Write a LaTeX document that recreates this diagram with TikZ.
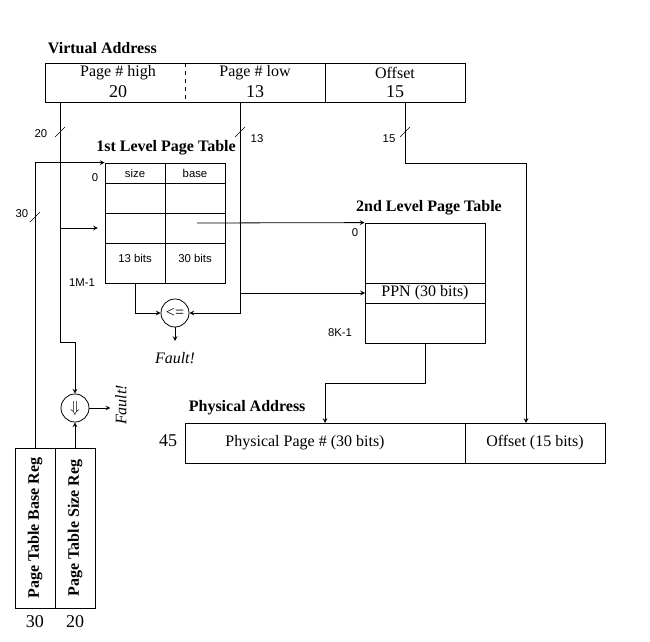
\documentclass[tikz,border=0pt]{standalone}
\usepackage{fontspec}
\setmainfont{Liberation Serif}
\newfontfamily\lblfont{Liberation Sans}
\usetikzlibrary{positioning, calc, arrows}

\begin{document}
\begin{tikzpicture}[x=0.75pt, y=-0.75pt, >=stealth, line width=0.6pt,
    box/.style={draw, rectangle, inner sep=0pt},
    cmpbox/.style={draw, circle, minimum size=21pt, inner sep=0pt, font=\fontsize{12}{13}\selectfont},
    title/.style={font=\fontsize{12}{14}\selectfont\bfseries},
    txt/.style={font=\fontsize{12}{14}\selectfont},
    num/.style={font=\fontsize{13.5}{15}\selectfont},
    small/.style={font=\lblfont\fontsize{8.5}{10}\selectfont},
    fault/.style={font=\fontsize{12}{14}\selectfont\itshape},
    slash/.style={line width=0.5pt}]
  \useasboundingbox (0,0) rectangle (650,642);

  % virtual address
  \node[title, anchor=west] (vatitle) at (43,48) {Virtual Address};
  \node[box, minimum width=315pt, minimum height=29.25pt] (va) at (255,82.5) {};
  \draw[dashed] (185,63) -- (185,102);
  \draw (325,63) -- (325,102);
  \node[txt] (vahi) at (118,73) {Page \# high};
  \node[num] (vahin) at (118,92) {20};
  \node[txt] (valo) at (255,73) {Page \# low};
  \node[num] (valon) at (255,92) {13};
  \node[txt] (vaoff) at (395,73) {Offset};
  \node[num] (vaoffn) at (395,92) {15};
  \coordinate (hi) at (60,102);
  \coordinate (lo) at (240,102);
  \coordinate (off) at (405,102);

  % 1st level table
  \node[title] (t1title) at (166,148) {1st Level Page Table};
  \node[box, minimum width=90pt, minimum height=90pt] (pt1) at (165,223) {};
  \draw (165,163) -- (165,283);
  \foreach \y in {183,213,243} \draw (105,\y) -- (225,\y);
  \node[small] (sz) at (135,173) {size};
  \node[small] (bs) at (195,173) {base};
  \node[small] (szb) at (135,258) {13 bits};
  \node[small] (bsb) at (195,258) {30 bits};
  \node[small] (t1zero) at (95,178) {0};
  \node[small] (t1last) at (82,283) {1M-1};
  \coordinate (sizeout) at (135,283);
  \coordinate (baseout) at (197,223);

  % 2nd level table
  \node[title] (t2title) at (429,208) {2nd Level Page Table};
  \node[box, minimum width=90pt, minimum height=90pt] (pt2) at (425,283) {};
  \draw (365,283) -- (485,283) (365,303) -- (485,303);
  \node[txt] (ppn) at (425,293) {PPN (30 bits)};
  \node[small] (t2zero) at (355,233) {0};
  \node[small] (t2last) at (340,333) {8K-1};
  \coordinate (ppnrow) at (365,293);

  % comparators
  \node[cmpbox] (cmp1) at (175,313) {<=};
  \node[fault] (f1) at (175,358) {Fault!};
  \node[cmpbox] (cmp2) at (75,408) {$\Downarrow$};
  \node[fault, rotate=90] (f2) at (121,405) {Fault!};

  % registers
  \node[box, minimum width=30pt, minimum height=120pt] (basereg) at (35,528) {};
  \node[box, minimum width=30pt, minimum height=120pt] (sizereg) at (75,528) {};
  \node[title, rotate=90] at (basereg) {Page Table Base Reg};
  \node[title, rotate=90] at (sizereg) {Page Table Size Reg};
  \node[num] (basen) at (35,622) {30};
  \node[num] (sizen) at (75,622) {20};

  % physical address
  \node[title, anchor=west] (patitle) at (184,408) {Physical Address};
  \node[box, minimum width=315pt, minimum height=30pt] (pa) at (395,443) {};
  \draw (465,423) -- (465,463);
  \node[txt] (pappntxt) at (305,443) {Physical Page \# (30 bits)};
  \node[txt] (paofftxt) at (535,443) {Offset (15 bits)};
  \node[num] (pan) at (168,441) {45};
  \coordinate (pappn) at (325,423);
  \coordinate (paoff) at (526,423);

  % connectors
  \draw[->] (hi) |- (75,342) -- (cmp2.north);
  \draw[->, shorten >=5pt] (60,228) -- (pt1.west |- 60,228);
  \draw[->] (lo) |- (cmp1.east);
  \draw[->] (240,293) -- (ppnrow);
  \draw[->] (off) -- (405,163) -| (paoff);
  \draw[->] (baseout) -- (pt2.north west);
  \draw[->] (pt2.south) -- (425,383) -| (pappn);
  \draw[->] (basereg.north) |- (pt1.north west);
  \draw[->] (sizereg.north) -- (cmp2.south);
  \draw[->] (sizeout) |- (cmp1.west);
  \draw[->] (cmp1.south) -- (175,341);
  \draw[->] (cmp2.east) -- (cmp2.east -| f2.north);

  % width marks
  \draw[slash] (55,137) -- (65,127);
  \draw[slash] (235,137) -- (245,127);
  \draw[slash] (400,137) -- (410,127);
  \draw[slash] (30,222) -- (40,212);
  \node[small] (w20) at (41,134) {20};
  \node[small] (w13) at (257,139) {13};
  \node[small] (w15) at (389,139) {15};
  \node[small] (w30) at (22,214) {30};
\end{tikzpicture}
\end{document}
